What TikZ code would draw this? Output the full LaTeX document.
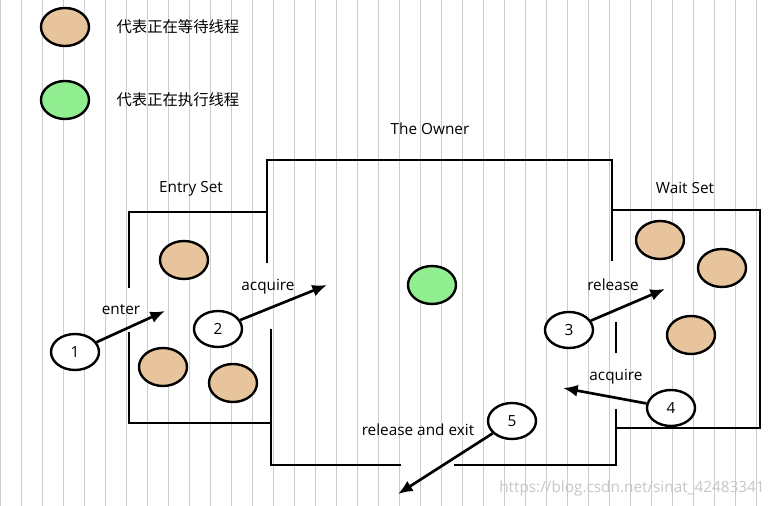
\documentclass[tikz,border=0pt]{standalone}
\usetikzlibrary{shapes.geometric,arrows.meta}
\usepackage{fontspec}
\setmainfont{Open Sans}
\newfontfamily\cjk{Noto Sans CJK SC}
\begin{document}
\begin{tikzpicture}[x=0.75pt,y=-0.75pt,font=\fontsize{11.5}{13}\selectfont,
  wall/.style={line width=2.2pt,line cap=rect},
  wait/.style={ellipse,draw,line width=1.8pt,fill={rgb,255:red,232;green,196;blue,156},minimum width=48pt*0.75,minimum height=38pt*0.75,inner sep=0},
  run/.style={wait,fill={rgb,255:red,144;green,238;blue,144}},
  num/.style={ellipse,draw,line width=1.8pt,fill=white,minimum width=48pt*0.75,minimum height=36pt*0.75,inner sep=0},
  arr/.style={-{Latex[length=11pt,width=9pt]},line width=2pt},
  lab/.style={inner sep=1pt}]
\useasboundingbox (0,0) rectangle (769,506);
\fill[white] (0,0) rectangle (769,506);
\draw[black!20,line width=0.6pt] (0,0) grid[step=21] (769,506);
\node[wait] (lw) at (65,27) {};
\node[lab,anchor=west] (lwt) at (115,27) {\cjk 代表正在等待线程};
\node[run] (lr) at (65,100) {};
\node[lab,anchor=west] (lrt) at (115,100) {\cjk 代表正在执行线程};
\node[lab] (to) at (430,129) {The Owner};
\node[lab] (es) at (191,189) {Entry Set};
\node[lab] (ws) at (685,188) {Wait Set};
% walls
\draw[wall] (129,287) -- (129,212) -- (267,212);
\draw[wall] (129,333) -- (129,423) -- (271,423);
\draw[wall] (267,262) -- (267,160) -- (612,160) -- (612,260);
\draw[wall] (271,330) -- (271,465) -- (400,465);
\draw[wall] (455,465) -- (616,465) -- (616,410);
\draw[wall] (616,323) -- (616,352);
\draw[wall] (612,210) -- (760,210) -- (760,428) -- (616,428);
% threads
\node[wait] (e1) at (184,260) {};
\node[wait] (e2) at (163,367) {};
\node[wait] (e3) at (233,383) {};
\node[run] (o1) at (432,285) {};
\node[wait] (w1) at (660,240) {};
\node[wait] (w2) at (722,268) {};
\node[wait] (w3) at (691,335) {};
% numbered
\node[num] (n1) at (75,352) {1};
\node[num] (n2) at (218,329) {2};
\node[num] (n3) at (569,330) {3};
\node[num] (n4) at (671,408) {4};
\node[num] (n5) at (512,421) {5};
\coordinate (t1) at (165,311);
\coordinate (t2) at (327,285);
\coordinate (t3) at (665,289);
\coordinate (t4) at (563,388);
\coordinate (t5) at (398,494);
\draw[arr] (n1) -- (t1);
\draw[arr] (n2) -- (t2);
\draw[arr] (n3) -- (t3);
\draw[arr] (n4) -- (t4);
\draw[arr] (n5) -- (t5);
\node[lab] (l1) at (121,310) {enter};
\node[lab] (l2) at (268,287) {acquire};
\node[lab] (l3) at (613,285) {release};
\node[lab] (l4) at (616,377) {acquire};
\node[lab] (l5) at (418,430) {release and exit};
\node[lab,text=black!22] (wm) at (632,489) {https://blog.csdn.net/sinat\_42483341};
\end{tikzpicture}
\end{document}
